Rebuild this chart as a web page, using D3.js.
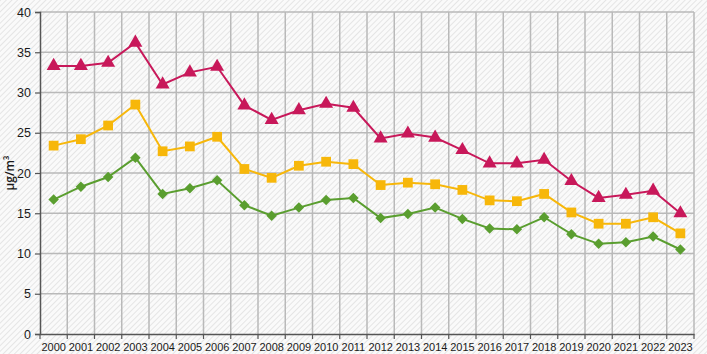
<!DOCTYPE html>
<html>
<head>
<meta charset="utf-8">
<script src="https://cdn.jsdelivr.net/npm/d3@7"></script>
<style>
  html, body { margin: 0; padding: 0; background: #fff; }
  svg { display: block; font-family: "Open Sans", "DejaVu Sans", sans-serif; }
  .tick text { fill: #1a1a1a; }
</style>
</head>
<body>
<svg id="chart"></svg>
<script>
const years = ['2000','2001','2002','2003','2004','2005','2006','2007','2008','2009','2010','2011',
               '2012','2013','2014','2015','2016','2017','2018','2019','2020','2021','2022','2023'];

const redValues = [33.3, 33.3, 33.7, 36.2, 31.0, 32.5, 33.2, 28.4, 26.6, 27.8, 28.6, 28.1,
                   24.3, 24.9, 24.4, 22.85, 21.2, 21.2, 21.65, 19.0, 16.9, 17.3, 17.8, 15.0];
const yellowValues = [23.4, 24.2, 25.9, 28.5, 22.7, 23.3, 24.5, 20.5, 19.4, 20.9, 21.4, 21.1,
                      18.5, 18.8, 18.6, 17.9, 16.6, 16.5, 17.4, 15.1, 13.7, 13.7, 14.5, 12.5];
const greenValues = [16.7, 18.3, 19.5, 21.9, 17.4, 18.1, 19.1, 16.0, 14.7, 15.7, 16.65, 16.9,
                     14.4, 14.9, 15.7, 14.3, 13.1, 13.0, 14.5, 12.4, 11.2, 11.4, 12.1, 10.5];

const yTicks = [0, 5, 10, 15, 20, 25, 30, 35, 40];
const yLabel = 'µg/m³';

const series = [
  { name: 'green', values: greenValues, color: '#5a9e2f', symbol: d3.symbolSquare, size: 55, rot: 45 },
  { name: 'yellow', values: yellowValues, color: '#f7b70a', symbol: d3.symbolSquare, size: 95, rot: 0 },
  { name: 'red', values: redValues, color: '#c8185a', symbol: d3.symbolTriangle, size: 85, rot: 0 }
];

const width = 707, height = 354;
const margin = { top: 12, right: 13, bottom: 20, left: 40 };
const innerW = width - margin.left - margin.right;
const innerH = height - margin.top - margin.bottom;

const svg = d3.select('#chart').attr('width', width).attr('height', height);

// schraffierter Hintergrund
const defs = svg.append('defs');
const pat = defs.append('pattern')
  .attr('id', 'hatch')
  .attr('patternUnits', 'userSpaceOnUse')
  .attr('width', 4).attr('height', 4)
  .attr('patternTransform', 'rotate(45)');
pat.append('rect').attr('width', 4).attr('height', 4).attr('fill', '#fafafa');
pat.append('line')
  .attr('x1', 0).attr('y1', 0).attr('x2', 0).attr('y2', 4)
  .attr('stroke', '#e0e0e0').attr('stroke-width', 1.6);

svg.append('rect').attr('width', width).attr('height', height).attr('fill', 'url(#hatch)');

const g = svg.append('g').attr('transform', `translate(${margin.left},${margin.top})`);

const x = d3.scaleBand().domain(years).range([0, innerW]);
const y = d3.scaleLinear().domain([0, 40]).range([innerH, 0]);

// Gitterlinien
g.append('g')
  .selectAll('line.h')
  .data(yTicks.filter(t => t > 0))
  .join('line')
    .attr('x1', 0).attr('x2', innerW)
    .attr('y1', d => y(d)).attr('y2', d => y(d))
    .attr('stroke', '#b9b9b9').attr('stroke-width', 1.5);

const bounds = years.map(yr => x(yr) + x.bandwidth());
g.append('g')
  .selectAll('line.v')
  .data(bounds)
  .join('line')
    .attr('x1', d => d).attr('x2', d => d)
    .attr('y1', 0).attr('y2', innerH)
    .attr('stroke', '#b9b9b9').attr('stroke-width', 1.5);

// Achsen
const yAxis = g.append('g')
  .call(d3.axisLeft(y).tickValues(yTicks).tickSize(5).tickPadding(4));
yAxis.select('.domain').attr('stroke', '#555').attr('stroke-width', 1.5);
yAxis.selectAll('.tick line').attr('stroke', '#555').attr('stroke-width', 1.2);
yAxis.selectAll('.tick text').attr('font-size', 12.5);

const xAxis = g.append('g')
  .attr('transform', `translate(0,${innerH})`)
  .call(d3.axisBottom(x).tickSize(0).tickPadding(9));
xAxis.select('.domain').attr('stroke', '#555').attr('stroke-width', 1.5);
xAxis.selectAll('.tick text').attr('font-size', 11);

// Tick-Striche an den Kategoriegrenzen
g.append('g')
  .attr('transform', `translate(0,${innerH})`)
  .selectAll('line')
  .data([0].concat(bounds))
  .join('line')
    .attr('x1', d => d).attr('x2', d => d)
    .attr('y1', 0).attr('y2', 5)
    .attr('stroke', '#555').attr('stroke-width', 1.2);

// Achsentitel
svg.append('text')
  .attr('transform', `translate(14,${margin.top + innerH / 2}) rotate(-90)`)
  .attr('text-anchor', 'middle')
  .attr('font-size', 12)
  .attr('font-weight', 600)
  .attr('fill', '#1a1a1a')
  .text(yLabel);

// Linien und Marker
const cx = i => x(years[i]) + x.bandwidth() / 2;
const line = d3.line().x((d, i) => cx(i)).y(d => y(d));

series.forEach(s => {
  g.append('path')
    .datum(s.values)
    .attr('fill', 'none')
    .attr('stroke', s.color)
    .attr('stroke-width', 2)
    .attr('d', line);

  g.append('g')
    .selectAll('path')
    .data(s.values)
    .join('path')
      .attr('transform', (d, i) => `translate(${cx(i)},${y(d)}) rotate(${s.rot})`)
      .attr('d', d3.symbol(s.symbol, s.size))
      .attr('fill', s.color);
});
</script>
</body>
</html>
